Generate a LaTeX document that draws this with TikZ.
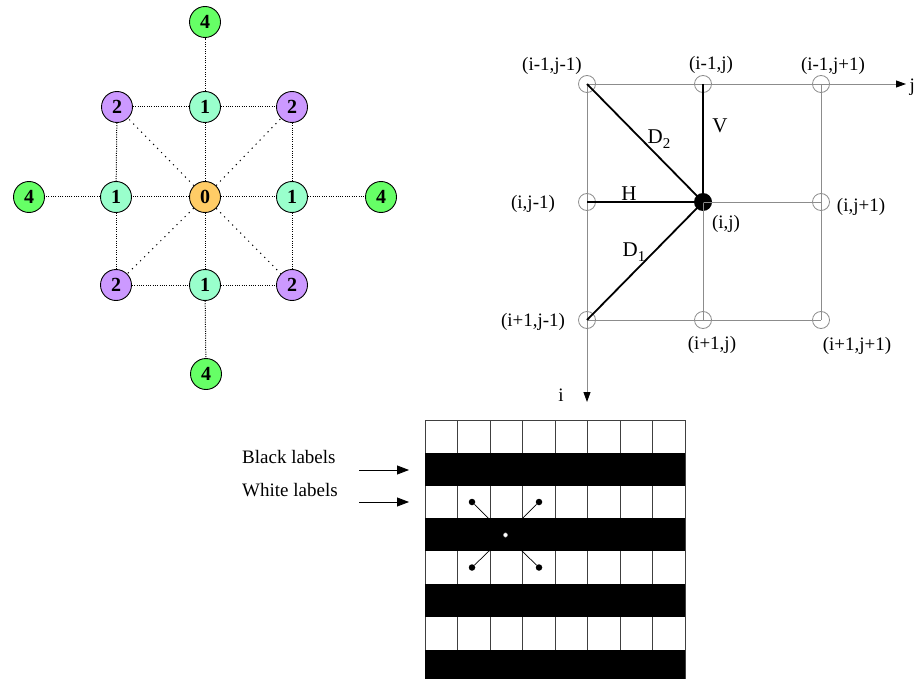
\documentclass[tikz,border=0pt]{standalone}
\usepackage{fontspec}
\setmainfont{Liberation Serif}
\usetikzlibrary{arrows.meta}
\definecolor{cgreen}{HTML}{66FF66}
\definecolor{cpurple}{HTML}{CC99FF}
\definecolor{cteal}{HTML}{99FFCC}
\definecolor{corange}{HTML}{FFCC66}
\definecolor{gridgray}{HTML}{8C8C8C}
\definecolor{celline}{HTML}{404040}
\begin{document}
\begin{tikzpicture}[x=1pt,y=-1pt,
  num/.style={circle,draw=black,line width=0.9pt,minimum size=31pt,inner sep=0pt,font=\fontsize{20}{20}\selectfont\bfseries},
  nfour/.style={num,fill=cgreen},
  ntwo/.style={num,fill=cpurple},
  none/.style={num,fill=cteal},
  nzero/.style={num,fill=corange},
  dots/.style={line width=1pt,dash pattern=on 1pt off 1.3pt},
  diagdots/.style={line width=1pt,dash pattern=on 1.2pt off 4.5pt},
  gline/.style={gridgray,line width=0.9pt},
  bline/.style={black,line width=1.8pt},
  gpt/.style={circle,draw=gridgray,line width=0.8pt,minimum size=17pt,inner sep=0pt},
  lab/.style={font=\fontsize{19}{20}\selectfont,inner sep=0pt},
  big/.style={font=\fontsize{21}{22}\selectfont,inner sep=0pt},
  axarr/.style={gline,-{Triangle[length=10pt,width=7pt,color=black]}},
  larr/.style={black,line width=0.8pt,-{Triangle[length=12pt,width=9pt]}},
  dotb/.style={circle,fill=black,minimum size=6.5pt,inner sep=0pt},
]
\useasboundingbox (0,0) rectangle (915,679);

% ---------------- left diagram ----------------
\node[nzero] (z) at (205,197) {0};
\node[none] (ot) at (205,107) {1};
\node[none] (ob) at (205,285) {1};
\node[none] (ol) at (116,197) {1};
\node[none] (or) at (292,197) {1};
\node[ntwo] (ttl) at (117,107) {2};
\node[ntwo] (ttr) at (292,107) {2};
\node[ntwo] (tbl) at (116,285) {2};
\node[ntwo] (tbr) at (292,285) {2};
\node[nfour] (ft) at (205,22) {4};
\node[nfour] (fb) at (206,374) {4};
\node[nfour] (fl) at (29,197) {4};
\node[nfour] (fr) at (381,197) {4};

\draw[dots] (z) -- (ot); \draw[dots] (z) -- (ob);
\draw[dots] (z) -- (ol); \draw[dots] (z) -- (or);
\draw[diagdots] (z) -- (ttl); \draw[diagdots] (z) -- (ttr);
\draw[diagdots] (z) -- (tbl); \draw[diagdots] (z) -- (tbr);
\draw[dots] (ttl) -- (ot); \draw[dots] (ot) -- (ttr);
\draw[dots] (tbl) -- (ob); \draw[dots] (ob) -- (tbr);
\draw[dots] (ttl) -- (ol); \draw[dots] (ol) -- (tbl);
\draw[dots] (ttr) -- (or); \draw[dots] (or) -- (tbr);
\draw[dots] (ot) -- (ft); \draw[dots] (ob) -- (fb);
\draw[dots] (ol) -- (fl); \draw[dots] (or) -- (fr);

% ---------------- right diagram ----------------
\node[gpt] (a11) at (587,84) {};
\node[gpt] (a12) at (703,84) {};
\node[gpt] (a13) at (821,84) {};
\node[gpt] (a21) at (587,202) {};
\node[circle,fill=black,minimum size=18pt,inner sep=0pt] (a22) at (703,202) {};
\node[gpt] (a23) at (821,202) {};
\node[gpt] (a31) at (587,320) {};
\node[gpt] (a32) at (703,320) {};
\node[gpt] (a33) at (821,320) {};
\coordinate (jend) at (906,84);
\coordinate (iend) at (587,402);

\draw[axarr] (a11.center) -- (jend);
\draw[axarr] (a11.center) -- (iend);
\draw[gline] (a13.center) -- (a33.center);
\draw[gline] (a31.center) -- (a33.center);
\draw[gline] (a22.center) -- (a23.center);
\draw[gline] (a22.center) -- (a32.center);
\draw[bline] (a21.center) -- (a22.center);
\draw[bline] (a12.center) -- (a22.center);
\draw[bline] (a11.center) -- (a22.center);
\draw[bline] (a31.center) -- (a22.center);

\node[lab] (l11) at (552,66) {(i-1,j-1)};
\node[lab] (l12) at (711,65) {(i-1,j)};
\node[lab] (l13) at (833,66) {(i-1,j+1)};
\node[lab] (l21) at (533,204) {(i,j-1)};
\node[lab] (l23) at (861,207) {(i,j+1)};
\node[lab] (l22) at (726,224) {(i,j)};
\node[lab] (l31) at (533,322) {(i+1,j-1)};
\node[lab] (l32) at (712,345) {(i+1,j)};
\node[lab] (l33) at (857,346) {(i+1,j+1)};
\node[lab] (li) at (561,395) {i};
\node[lab,anchor=west] (lj) at (909.5,87) {j};

\node[big] (ld2) at (659,139) {D\raisebox{-0.45ex}{\fontsize{15}{15}\selectfont 2}};
\node[big] (lv) at (720,126) {V};
\node[big] (lh) at (629,194) {H};
\node[big] (ld1) at (634,252) {D\raisebox{-0.45ex}{\fontsize{15}{15}\selectfont 1}};

% ---------------- bottom grid ----------------
\fill[white] (425,420) rectangle (685,682.4);
\foreach \k in {0,...,8}{
  \draw[celline,line width=1pt] (425+32.5*\k,420) -- (425+32.5*\k,682.4);
}
\draw[celline,line width=1pt] (425,420) -- (685,420);
\foreach \r in {1,3,5,7}{
  \fill[black] (425,420+32.8*\r) rectangle (685,420+32.8*\r+32.8);
}
\node[dotb] (d1) at (472,502) {};
\node[dotb] (d2) at (539,502) {};
\node[dotb] (d3) at (472,567.5) {};
\node[dotb] (d4) at (539,567.5) {};
\node[circle,fill=white,draw=gray,line width=0.4pt,minimum size=4.5pt,inner sep=0pt] (cc) at (505.5,535) {};
\draw[black,line width=0.7pt] (d1) -- (cc);
\draw[black,line width=0.7pt] (d2) -- (cc);
\draw[black,line width=0.7pt] (d3) -- (cc);
\draw[black,line width=0.7pt] (d4) -- (cc);

\node[lab,anchor=west] (tb) at (242,457) {Black labels};
\node[lab,anchor=west] (tw) at (242,490) {White labels};
\coordinate (ba0) at (359,470);
\coordinate (ba1) at (409,470);
\coordinate (wa0) at (359,502);
\coordinate (wa1) at (409,502);
\draw[larr] (ba0) -- (ba1);
\draw[larr] (wa0) -- (wa1);
\end{tikzpicture}
\end{document}
